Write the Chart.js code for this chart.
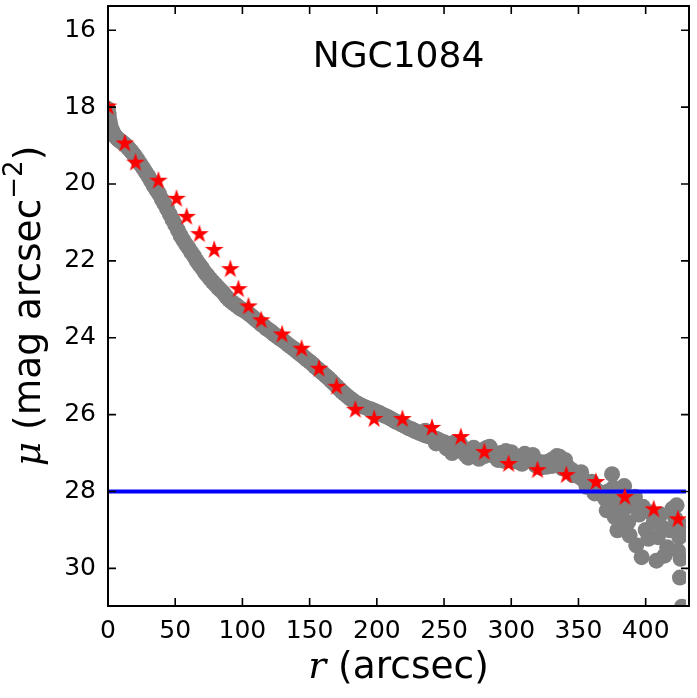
<!DOCTYPE html>
<html>
<head>
<meta charset="utf-8">
<script src="https://cdn.jsdelivr.net/npm/chart.js@4.4.0/dist/chart.umd.min.js"></script>
<style>
html, body { margin: 0; padding: 0; background: #fff; }
canvas { display: block; }
</style>
</head>
<body>
<canvas id="myChart" width="697" height="698"></canvas>
<script>
const galaxy = "NGC1084";

// surface brightness profile (grey circles)
const greyR = [
	0, 0.5, 1, 1.5, 2, 3, 4, 5, 6, 7, 8, 9, 10, 11, 12, 13, 14, 15, 16, 17, 18, 19,
	20, 22, 24, 26, 28, 30, 32, 34, 36, 38, 40, 42, 44, 46, 48, 50, 52, 54, 56, 58,
	60, 62, 64, 66, 68, 70, 72, 74, 76, 78, 80, 82, 84, 86, 88, 90, 92, 94, 96, 98,
	100, 102, 104, 106, 108, 110, 112, 114, 116, 118, 120, 122, 124, 126, 128, 130,
	132, 134, 136, 138, 140, 142, 144, 146, 148, 150, 152, 154, 156, 158, 160, 162,
	164, 166, 168, 170, 172, 174, 176, 178, 180, 182, 184, 186, 188, 190, 192, 194,
	196, 198, 200, 202, 204, 206, 208, 210, 212, 214, 216, 218, 220, 222, 224, 226,
	228, 230, 232, 234, 236, 238, 240, 242, 244, 246, 248, 250, 252, 254, 256, 258,
	260, 262, 264, 266, 268, 270, 272, 274, 276, 278, 280, 282, 284, 286, 288, 290,
	292, 294, 296, 298, 300, 302, 304, 306, 308, 310, 312, 314, 316, 318, 320, 322,
	324, 326, 328, 330, 332, 334, 336, 338, 340, 342, 344, 346, 348, 350, 352, 354,
	356, 358, 360, 362, 364, 366,
	252, 258, 266, 272, 280, 290, 296, 304, 310, 318, 326, 334, 340, 346, 352, 356, 360, 362,
	236, 244, 256, 262, 268, 276, 284, 294, 300, 308, 316, 322, 330, 338,
	368, 370, 371, 372, 375, 376, 377, 378, 379, 380, 382, 384, 385, 386, 387, 388,
	390, 392, 393, 395, 397, 398, 400, 402, 404, 406, 408, 409, 411, 413, 414, 416,
	418, 420, 422, 423, 424, 425, 425.5, 426, 427, 428
];
const greyMu = [
	18.05, 18.2, 18.32, 18.42, 18.5, 18.6, 18.68, 18.74, 18.78, 18.82, 18.85, 18.88,
	18.9, 18.93, 18.96, 18.99, 19.02, 19.06, 19.1, 19.14, 19.18, 19.23,
	19.27, 19.37, 19.48, 19.58, 19.69, 19.8, 19.92, 20.04, 20.15, 20.26, 20.4, 20.52,
	20.65, 20.79, 20.93, 21.06, 21.2, 21.34, 21.46, 21.57,
	21.67, 21.78, 21.88, 22.0, 22.1, 22.19, 22.3, 22.38, 22.47, 22.55, 22.62, 22.7,
	22.77, 22.84, 22.93, 23.01, 23.07, 23.12, 23.17, 23.23,
	23.27, 23.31, 23.36, 23.41, 23.47, 23.53, 23.59, 23.65, 23.7, 23.76, 23.81, 23.86,
	23.92, 23.97, 24.02, 24.07,
	24.12, 24.18, 24.23, 24.28, 24.34, 24.4, 24.45, 24.51, 24.57, 24.62, 24.68, 24.75,
	24.81, 24.87, 24.93, 24.99,
	25.05, 25.12, 25.19, 25.26, 25.33, 25.4, 25.46, 25.52, 25.58, 25.63, 25.68, 25.72,
	25.76, 25.79, 25.82, 25.85,
	25.87, 25.9, 25.93, 25.96, 26.0, 26.03, 26.06, 26.1, 26.14, 26.18, 26.21, 26.25,
	26.28, 26.32, 26.36, 26.38,
	26.42, 26.45, 26.48, 26.51, 26.54, 26.56, 26.58, 26.61, 26.63, 26.66, 26.7, 26.72,
	26.75, 26.78, 26.8, 26.83,
	26.86, 26.88, 26.91, 26.93, 26.95, 26.96, 26.98, 26.99, 27.0, 26.96, 26.9, 26.86,
	26.98, 27.06, 27.08, 27.04,
	27.0, 27.02, 27.06, 27.12, 27.1, 27.08, 27.1, 27.12, 27.15, 27.13, 27.12, 27.16,
	27.19, 27.21, 27.23, 27.24,
	27.25, 27.24, 27.22, 27.18, 27.14, 27.08, 27.1, 27.22, 27.3, 27.36, 27.42, 27.47,
	27.53, 27.6, 27.65, 27.7,
	27.76, 27.82, 27.87, 27.92, 27.98, 28.04,
	26.88, 26.72, 27.05, 26.86, 27.08, 27.18, 26.95, 27.22, 27.02, 27.32, 27.36, 27.25,
	27.18, 27.58, 27.5, 27.88, 27.75, 28.05,
	26.42, 26.75, 27.0, 26.76, 27.12, 27.15, 26.84, 27.2, 26.98, 27.28, 27.05, 27.38,
	27.34, 27.4,
	28.1, 28.2, 28.49, 28.0, 27.55, 27.9, 28.67, 28.3, 29.01, 28.55, 28.67, 27.86,
	28.1, 28.4, 28.8, 29.14,
	28.25, 28.14, 29.4, 28.6, 29.71, 28.4, 29.0, 29.23, 28.55, 28.8, 29.8, 29.19,
	28.6, 28.95, 29.67, 29.45,
	29.01, 28.45, 28.7, 28.36, 29.54, 29.19, 30.24, 29.75, 31.0, 28.9
];

// model points (red stars)
const starR = [
	0, 12.5, 20.5, 37.5, 51, 58.5, 68, 79, 91, 97, 104.5, 114, 129.5, 144, 157, 170,
	184, 198, 219, 241, 262.5, 280, 298, 319.5, 341, 363, 384.5, 406, 424
];
const starMu = [
	17.96, 18.92, 19.42, 19.89, 20.36, 20.83, 21.28, 21.69, 22.19, 22.71, 23.16, 23.52,
	23.89, 24.26, 24.78, 25.25, 25.85, 26.09, 26.09, 26.32, 26.56, 26.95, 27.26, 27.42,
	27.55, 27.73, 28.12, 28.44, 28.7
];

// sky limit
const skyMu = 28;

const xTicks = [0, 50, 100, 150, 200, 250, 300, 350, 400];
const yTicks = [16, 18, 20, 22, 24, 26, 28, 30];
const xMin = 0, xMax = 430;
const yMin = 15.37, yMax = 30.98;

// wanted plot box in the 697x698 page
const box = { left: 108, top: 6, right: 689, bottom: 606 };

// filled 5 point star for the markers
function makeStar(R, color) {
	const c = document.createElement("canvas");
	const s = Math.ceil(R * 2 + 2);
	c.width = s;
	c.height = s;
	const g = c.getContext("2d");
	g.fillStyle = color;
	g.beginPath();
	for (let i = 0; i < 10; i++) {
		const rr = i % 2 === 0 ? R : R * 0.381966;
		const a = -Math.PI / 2 + (i * Math.PI) / 5;
		const px = s / 2 + rr * Math.cos(a);
		const py = s / 2 + R * 0.1 + rr * Math.sin(a);
		if (i === 0) g.moveTo(px, py);
		else g.lineTo(px, py);
	}
	g.closePath();
	g.fill();
	return c;
}
const starImg = makeStar(9.8, "#ff0000");

const sans = '"DejaVu Sans", sans-serif';
const serifIt = 'italic 37.5px "DejaVu Serif", serif';

function drawParts(ctx, parts, x0, y0) {
	let x = x0;
	parts.forEach(p => {
		ctx.font = p.font;
		ctx.fillText(p.t, x, y0 - (p.rise || 0));
		x += ctx.measureText(p.t).width;
	});
}
function partsWidth(ctx, parts) {
	let w = 0;
	parts.forEach(p => {
		ctx.font = p.font;
		w += ctx.measureText(p.t).width;
	});
	return w;
}

const frame = {
	id: "frame",
	afterDraw(chart) {
		const ctx = chart.ctx;
		const a = box;
		const x = chart.scales.x, y = chart.scales.y;
		ctx.save();
		ctx.strokeStyle = "#000";
		ctx.lineWidth = 1.6;
		ctx.beginPath();
		xTicks.forEach(v => {
			const p = x.getPixelForValue(v);
			ctx.moveTo(p, a.bottom);
			ctx.lineTo(p, a.bottom - 8);
			ctx.moveTo(p, a.top);
			ctx.lineTo(p, a.top + 8);
		});
		yTicks.forEach(v => {
			const p = y.getPixelForValue(v);
			ctx.moveTo(a.left, p);
			ctx.lineTo(a.left + 8, p);
			ctx.moveTo(a.right, p);
			ctx.lineTo(a.right - 8, p);
		});
		ctx.stroke();
		ctx.lineWidth = 2;
		ctx.strokeRect(a.left, a.top, a.right - a.left, a.bottom - a.top);

		ctx.fillStyle = "#000";
		ctx.textBaseline = "alphabetic";
		ctx.textAlign = "center";
		ctx.font = "36px " + sans;
		ctx.fillText(galaxy, (a.left + a.right) / 2, a.top + 61);

		ctx.textAlign = "left";
		const cx = (a.left + a.right) / 2;
		const xParts = [
			{ t: "r", font: serifIt },
			{ t: " (arcsec)", font: "37.5px " + sans }
		];
		drawParts(ctx, xParts, cx - partsWidth(ctx, xParts) / 2, 678);

		const yParts = [
			{ t: "\u03bc", font: serifIt },
			{ t: " (mag arcsec", font: "37.5px " + sans },
			{ t: "\u22122", font: "26px " + sans, rise: 18 },
			{ t: ")", font: "37.5px " + sans }
		];
		const cy = (a.top + a.bottom) / 2;
		ctx.translate(40, cy);
		ctx.rotate(-Math.PI / 2);
		drawParts(ctx, yParts, -partsWidth(ctx, yParts) / 2, 0);
		ctx.restore();
	}
};

const ctx = document.getElementById("myChart").getContext("2d");

const myChart = new Chart(ctx, {
	type: "scatter",
	data: {
		datasets: [
			{
				label: "model",
				data: starR.map((r, i) => ({ x: r, y: starMu[i] })),
				pointStyle: starImg,
				pointRadius: 10,
				order: 0,
				clip: 0
			},
			{
				type: "line",
				label: "sky",
				data: [{ x: xMin, y: skyMu }, { x: xMax, y: skyMu }],
				borderColor: "#0000ff",
				borderWidth: 4,
				pointRadius: 0,
				fill: false,
				order: 1,
				clip: 0
			},
			{
				label: "profile",
				data: greyR.map((r, i) => ({ x: r, y: greyMu[i] })),
				backgroundColor: "#808080",
				borderWidth: 0,
				pointRadius: 8,
				order: 2,
				clip: 0
			}
		]
	},
	options: {
		responsive: false,
		animation: false,
		events: [],
		layout: { padding: { top: box.top, right: 697 - box.right, left: 0, bottom: 0 } },
		plugins: {
			legend: { display: false },
			tooltip: { enabled: false }
		},
		scales: {
			x: {
				type: "linear",
				min: xMin,
				max: xMax,
				grid: { display: false, drawTicks: false },
				border: { display: false },
				afterBuildTicks: s => { s.ticks = xTicks.map(v => ({ value: v })); },
				afterFit: s => { s.height = 698 - box.bottom; s.paddingLeft = 0; s.paddingRight = 0; },
				ticks: {
					color: "#000",
					padding: 10,
					maxRotation: 0,
					autoSkip: false,
					font: { family: "DejaVu Sans", size: 25 }
				}
			},
			y: {
				type: "linear",
				reverse: true,
				min: yMin,
				max: yMax,
				grid: { display: false, drawTicks: false },
				border: { display: false },
				afterBuildTicks: s => { s.ticks = yTicks.map(v => ({ value: v })); },
				afterFit: s => { s.width = box.left; s.paddingTop = 0; s.paddingBottom = 0; },
				ticks: {
					color: "#000",
					padding: 12,
					autoSkip: false,
					font: { family: "DejaVu Sans", size: 25 }
				}
			}
		}
	},
	plugins: [frame]
});

// if chart.js kept some room above the plot, stretch the y range so the
// scale still lines up with the box
const ys = myChart.scales.y;
if (Math.abs(ys.top - box.top) > 0.5) {
	const perUnit = (box.bottom - box.top) / (yMax - yMin);
	myChart.options.scales.y.min = yMax - (ys.bottom - ys.top) / perUnit;
	myChart.update();
}
</script>
</body>
</html>
